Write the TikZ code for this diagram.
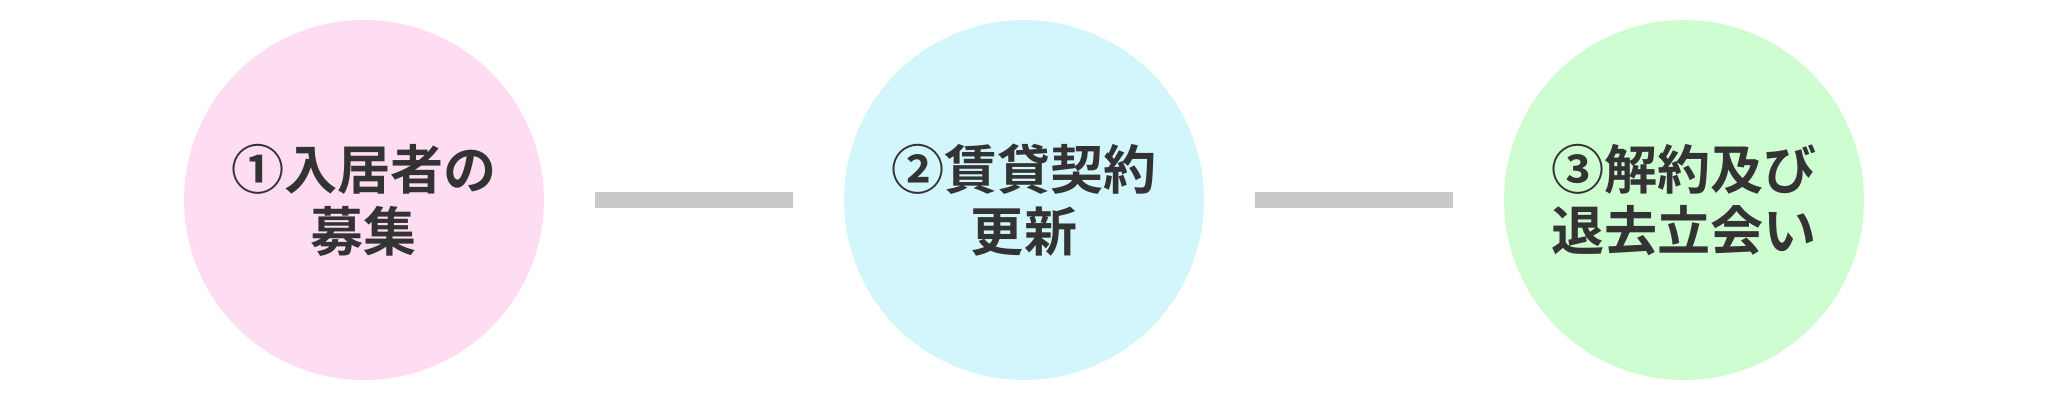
\documentclass[tikz,border=0pt]{standalone}
\usepackage{fontspec}
\newfontfamily\jpfont{Noto Sans CJK JP}[BoldFont={Noto Sans CJK JP Bold}]
\usetikzlibrary{positioning}
\definecolor{pinkfill}{RGB}{254,221,243}
\definecolor{cyanfill}{RGB}{211,246,253}
\definecolor{greenfill}{RGB}{207,253,210}
\definecolor{bargray}{RGB}{200,200,200}
\definecolor{textgray}{RGB}{51,51,51}
\tikzset{
    %Define style for the step circles
    stage/.style={
           circle,
           draw=none,
           inner sep=0pt,
           minimum size=3.6cm,
           align=center,
           text=textgray,
           font=\jpfont\bfseries\fontsize{15.1pt}{17.6pt}\selectfont},
    % Define bar style between circles
    bar/.style={
           draw=bargray,
           line width=0.16cm,
           shorten <=0.5cm,
           shorten >=0.5cm}
}

\begin{document}
\begin{tikzpicture}
\useasboundingbox (0,0) rectangle (20.48,4);

\node[stage, fill=pinkfill] (boshu) at (3.64,2) {①入居者の\\募集};
\node[stage, fill=cyanfill] (koshin) at (10.24,2) {②賃貸契約\\更新};
\node[stage, fill=greenfill] (kaiyaku) at (16.84,2) {③解約及び\\退去立会い};

\draw[bar] (boshu) -- (koshin);
\draw[bar] (koshin) -- (kaiyaku);

\end{tikzpicture}
\end{document}
